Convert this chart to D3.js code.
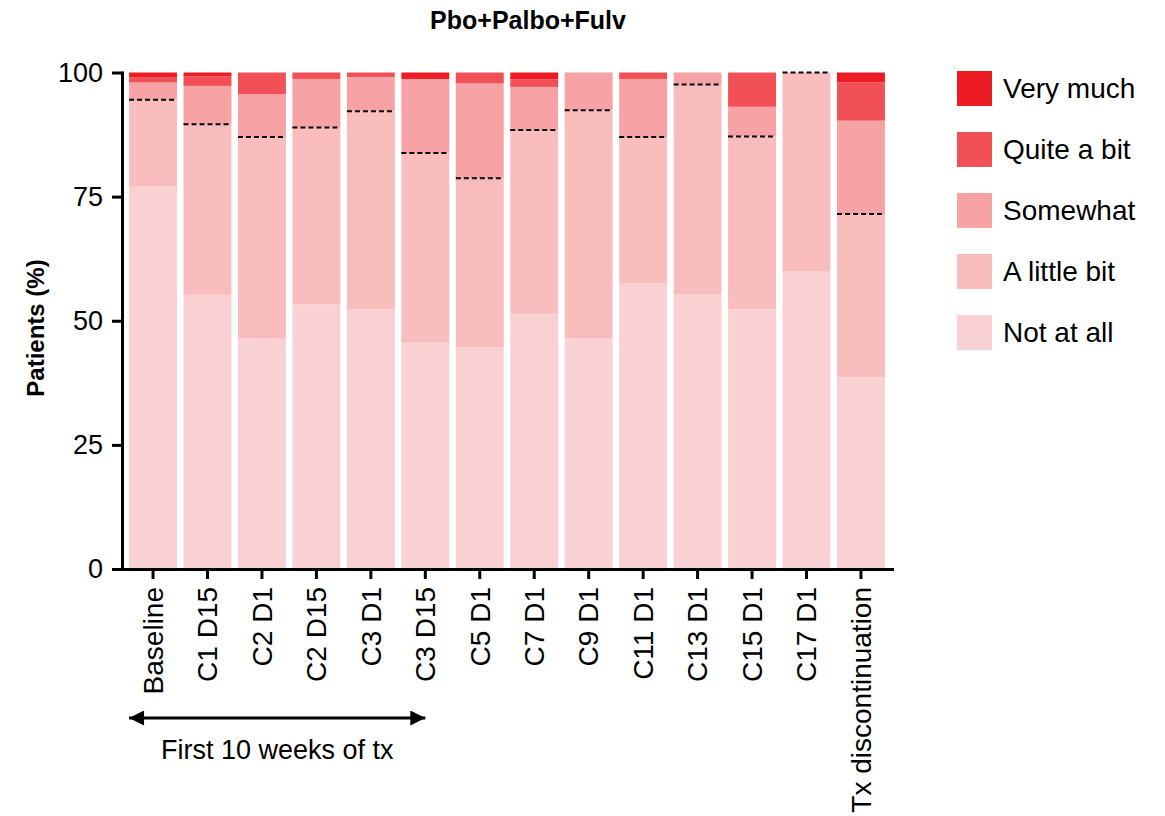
<!DOCTYPE html>
<html>
<head>
<meta charset="utf-8">
<script src="https://d3js.org/d3.v7.min.js"></script>
<style>
    body { margin: 0; background: #fff; }
    svg { font-family: "Liberation Sans", Arial, sans-serif; }
    .axis path, .axis line { stroke: #000; stroke-width: 3; }
    .axis text { font-size: 27px; fill: #000; }
    .x-axis text { font-size: 28px; }
</style>
</head>
<body>
<svg id="chart"></svg>
<script>
// visit labels (x axis)
const categories = ['Baseline', 'C1 D15', 'C2 D1', 'C2 D15', 'C3 D1', 'C3 D15', 'C5 D1',
    'C7 D1', 'C9 D1', 'C11 D1', 'C13 D1', 'C15 D1', 'C17 D1', 'Tx discontinuation'];

// % of patients per response
const notAtAll   = [77.0, 55.2, 46.4, 53.3, 52.3, 45.7, 44.7, 51.4, 46.4, 57.5, 55.3, 52.3, 59.9, 38.6];
const aLittleBit = [17.5, 34.4, 40.6, 35.6, 39.9, 38.1, 34.0, 37.0, 46.0, 29.5, 42.3, 34.8, 40.1, 32.9];
const somewhat   = [3.5, 7.7, 8.6, 9.8, 6.9, 14.9, 19.1, 8.7, 7.6, 11.7, 2.4, 6.0, 0, 18.8];
const quiteABit  = [1.0, 1.9, 4.4, 1.3, 0.9, 0, 2.2, 1.5, 0, 1.3, 0, 6.9, 0, 7.7];
const veryMuch   = [1.0, 0.8, 0, 0, 0, 1.3, 0, 1.4, 0, 0, 0, 0, 0, 2.0];

const responses = ['Not at all', 'A little bit', 'Somewhat', 'Quite a bit', 'Very much'];
const colors = ['#f9d1d3', '#f9bdbe', '#f7a3a6', '#f15057', '#ed1c24'];
const yTicks = [0, 25, 50, 75, 100];

const title = 'Pbo+Palbo+Fulv';
const yTitle = 'Patients (%)';
const arrowLabel = 'First 10 weeks of tx';

// build rows for d3.stack
const rows = categories.map((c, i) => ({
    visit: c,
    'Not at all': notAtAll[i],
    'A little bit': aLittleBit[i],
    'Somewhat': somewhat[i],
    'Quite a bit': quiteABit[i],
    'Very much': veryMuch[i]
}));

const width = 1165, height = 816;

const svg = d3.select('#chart')
    .attr('width', width)
    .attr('height', height);

const xScale = d3.scaleBand()
    .domain(categories)
    .range([122, 892])
    .paddingInner(0.12)
    .paddingOuter(0.13);

const yScale = d3.scaleLinear()
    .domain([0, 100])
    .range([569, 72.5]);

const colorScale = d3.scaleOrdinal()
    .domain(responses)
    .range(colors);

const series = d3.stack().keys(responses)(rows);

// stacked bars
svg.append('g')
    .selectAll('g')
    .data(series)
    .join('g')
    .attr('fill', d => colorScale(d.key))
    .selectAll('rect')
    .data(d => d.filter(s => s[1] - s[0] > 0))
    .join('rect')
    .attr('x', d => xScale(d.data.visit))
    .attr('width', xScale.bandwidth())
    .attr('y', d => yScale(d[1]))
    .attr('height', d => yScale(d[0]) - yScale(d[1]));

// dashed marker at top of "A little bit"
svg.append('g')
    .selectAll('line')
    .data(series[1])
    .join('line')
    .attr('x1', d => xScale(d.data.visit))
    .attr('x2', d => xScale(d.data.visit) + xScale.bandwidth())
    .attr('y1', d => yScale(d[1]))
    .attr('y2', d => yScale(d[1]))
    .attr('stroke', '#000')
    .attr('stroke-width', 2)
    .attr('stroke-dasharray', '5,3');

// axes
const yAxis = d3.axisLeft(yScale)
    .tickValues(yTicks)
    .tickSize(10)
    .tickPadding(9)
    .tickSizeOuter(0);

svg.append('g')
    .attr('class', 'axis y-axis')
    .attr('transform', 'translate(122,0)')
    .call(yAxis);

const xAxis = d3.axisBottom(xScale)
    .tickSize(10)
    .tickSizeOuter(0);

svg.append('g')
    .attr('class', 'axis x-axis')
    .attr('transform', 'translate(0,569)')
    .call(xAxis)
    .selectAll('text')
    .attr('transform', 'rotate(-90)')
    .attr('x', -18)
    .attr('y', 0)
    .attr('dy', '0.35em')
    .attr('text-anchor', 'end');

svg.selectAll('.axis path').attr('stroke-linecap', 'square');

// titles
svg.append('text')
    .attr('x', 528)
    .attr('y', 29)
    .attr('text-anchor', 'middle')
    .style('font-size', '25px')
    .style('font-weight', 'bold')
    .text(title);

svg.append('text')
    .attr('transform', 'rotate(-90)')
    .attr('x', -328)
    .attr('y', 44)
    .attr('text-anchor', 'middle')
    .style('font-size', '24px')
    .style('font-weight', 'bold')
    .text(yTitle);

// legend, top entry is "Very much"
const legend = svg.append('g')
    .attr('class', 'legend')
    .attr('transform', 'translate(957,71)');

const legendItems = legend.selectAll('g')
    .data(responses.slice().reverse())
    .join('g')
    .attr('transform', (d, i) => `translate(0, ${i * 61})`);

legendItems.append('rect')
    .attr('width', 35)
    .attr('height', 35)
    .attr('fill', d => colorScale(d));

legendItems.append('text')
    .attr('x', 46)
    .attr('y', 17.5)
    .attr('dy', '0.35em')
    .style('font-size', '28px')
    .text(d => d);

// arrow under the first six visits
const defs = svg.append('defs');
['arrow-end', 'arrow-start'].forEach((id, k) => {
    defs.append('marker')
        .attr('id', id)
        .attr('viewBox', '0 0 10 10')
        .attr('refX', 10)
        .attr('refY', 5)
        .attr('markerWidth', 17)
        .attr('markerHeight', 15)
        .attr('markerUnits', 'userSpaceOnUse')
        .attr('orient', k === 0 ? 'auto' : 'auto-start-reverse')
        .append('path')
        .attr('d', 'M0,0 L10,5 L0,10 Z')
        .attr('fill', '#000');
});

const arrowX0 = xScale('Baseline');
const arrowX1 = xScale('C3 D15') + xScale.bandwidth() / 2;

svg.append('line')
    .attr('x1', arrowX0)
    .attr('x2', arrowX1)
    .attr('y1', 718)
    .attr('y2', 718)
    .attr('stroke', '#000')
    .attr('stroke-width', 3)
    .attr('marker-start', 'url(#arrow-start)')
    .attr('marker-end', 'url(#arrow-end)');

svg.append('text')
    .attr('x', (arrowX0 + arrowX1) / 2)
    .attr('y', 759)
    .attr('text-anchor', 'middle')
    .style('font-size', '27px')
    .text(arrowLabel);
</script>
</body>
</html>
